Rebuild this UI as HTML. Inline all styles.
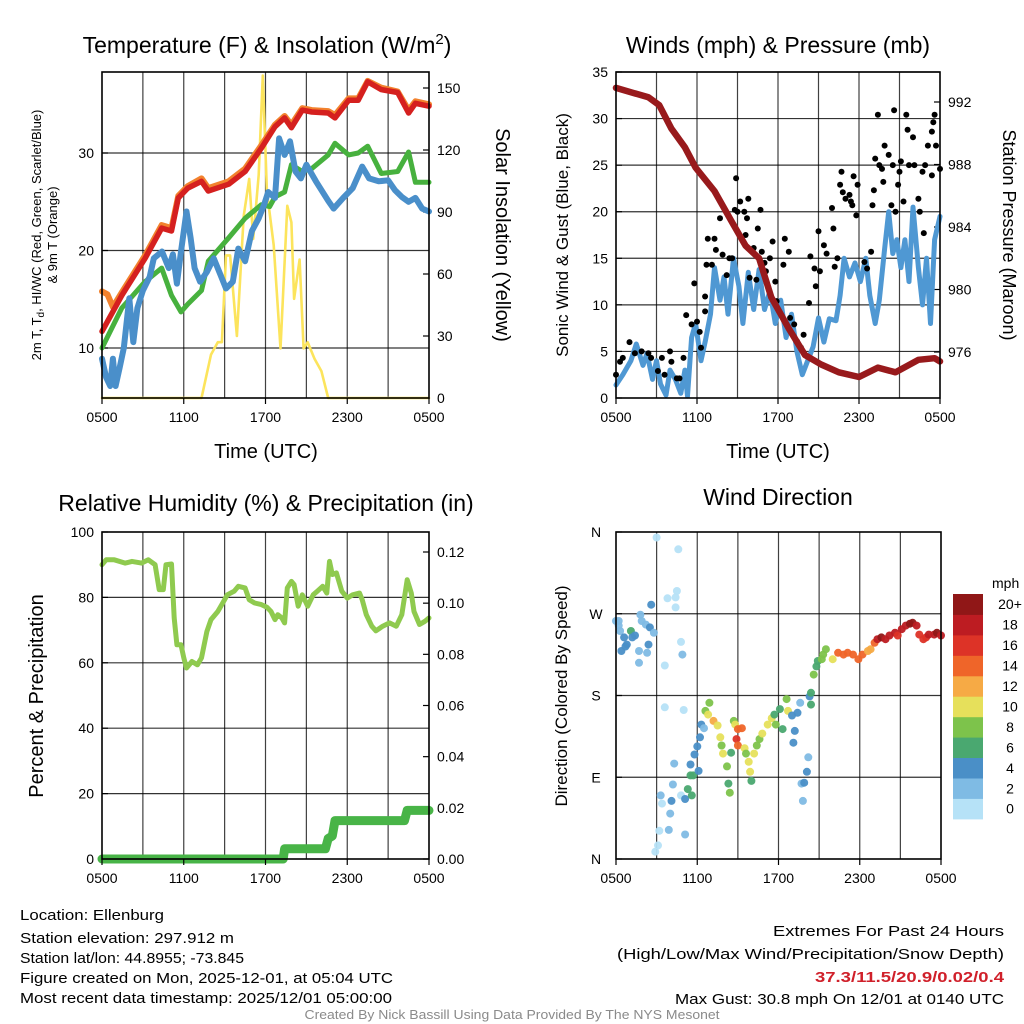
<!DOCTYPE html>
<html><head><meta charset="utf-8"><title>Mesonet Station Meteogram</title>
<style>
html,body{margin:0;padding:0;background:#fff;}
svg{display:block;font-family:"Liberation Sans",Arial,sans-serif;}
.tk{font-size:14px;fill:#000;}
.ttl{font-size:23px;fill:#000;}
.ax{font-size:20px;fill:#000;}
.ft{font-size:15px;fill:#000;}
</style></head>
<body>
<svg id="chart" width="1024" height="1024" viewBox="0 0 1024 1024" xmlns="http://www.w3.org/2000/svg">
<rect x="0" y="0" width="1024" height="1024" fill="#fff"/>
<text class="ttl" x="267" y="53" text-anchor="middle">Temperature (F) &amp; Insolation (W/m<tspan dy="-9" font-size="15">2</tspan><tspan dy="9">)</tspan></text>
<text class="ttl" x="778" y="53" text-anchor="middle">Winds (mph) &amp; Pressure (mb)</text>
<text class="ttl" x="266" y="511" text-anchor="middle">Relative Humidity (%) &amp; Precipitation (in)</text>
<text class="ttl" x="778" y="505" text-anchor="middle">Wind Direction</text>
<text class="ax" x="266" y="458" text-anchor="middle">Time (UTC)</text>
<text class="ax" x="778" y="458" text-anchor="middle">Time (UTC)</text>
<text font-size="13" transform="translate(41,235) rotate(-90)" text-anchor="middle">2m T, T<tspan dy="3" font-size="10">d</tspan><tspan dy="-3">, HI/WC (Red, Green, Scarlet/Blue)</tspan></text>
<text font-size="13" transform="translate(57,235) rotate(-90)" text-anchor="middle">&amp; 9m T (Orange)</text>
<text class="ax" transform="translate(496,235) rotate(90)" text-anchor="middle">Solar Insolation (Yellow)</text>
<text font-size="17" transform="translate(568,235) rotate(-90)" text-anchor="middle">Sonic Wind &amp; Gust (Blue, Black)</text>
<text font-size="18" transform="translate(1003,235) rotate(90)" text-anchor="middle">Station Pressure (Maroon)</text>
<text class="ax" transform="translate(43,696) rotate(-90)" text-anchor="middle">Percent &amp; Precipitation</text>
<text font-size="17" transform="translate(567,696) rotate(-90)" text-anchor="middle">Direction (Colored By Speed)</text>
<g>
<text class="ft" x="20" y="920" textLength="144" lengthAdjust="spacingAndGlyphs">Location: Ellenburg</text>
<text class="ft" x="20" y="943" textLength="214" lengthAdjust="spacingAndGlyphs">Station elevation: 297.912 m</text>
<text class="ft" x="20" y="963" textLength="224" lengthAdjust="spacingAndGlyphs">Station lat/lon: 44.8955; -73.845</text>
<text class="ft" x="20" y="983" textLength="373" lengthAdjust="spacingAndGlyphs">Figure created on Mon, 2025-12-01, at 05:04 UTC</text>
<text class="ft" x="20" y="1003" textLength="372" lengthAdjust="spacingAndGlyphs">Most recent data timestamp: 2025/12/01 05:00:00</text>
</g>
<g>
<text class="ft" x="1004" y="936" text-anchor="end" textLength="231" lengthAdjust="spacingAndGlyphs">Extremes For Past 24 Hours</text>
<text class="ft" x="1004" y="959" text-anchor="end" textLength="387" lengthAdjust="spacingAndGlyphs">(High/Low/Max Wind/Precipitation/Snow Depth)</text>
<text class="ft" x="1004" y="982" text-anchor="end" font-weight="bold" textLength="189" lengthAdjust="spacingAndGlyphs" style="fill:#d0202a">37.3/11.5/20.9/0.02/0.4</text>
<text class="ft" x="1004" y="1004" text-anchor="end" textLength="329" lengthAdjust="spacingAndGlyphs">Max Gust: 30.8 mph On 12/01 at 0140 UTC</text>
</g>
<text x="512" y="1019" text-anchor="middle" font-size="13" fill="#8a8a8a" textLength="415" lengthAdjust="spacingAndGlyphs">Created By Nick Bassill Using Data Provided By The NYS Mesonet</text>
<g id="layers"></g>
</svg>
<script>
// ---------- data (hours since 0500 UTC) ----------
const timeTicks = ["0500","1100","1700","2300","0500"];
const tempTicks = [10,20,30];
const solarTicks = [0,30,60,90,120,150];
const windTicks = [0,5,10,15,20,25,30,35];
const presTicks = [976,980,984,988,992];
const rhTicks = [0,20,40,60,80,100];
const precTicks = ["0.00","0.02","0.04","0.06","0.08","0.10","0.12"];
const dirTicks = ["N","E","S","W","N"];

const tempHours = [0,1.45,3.16,4.38,5.1,5.6,6.3,7.3,7.8,9.3,10.5,11.7,12.7,13.4,13.9,14.7,15.4,16.6,17.1,18.1,18.8,19.5,20.5,21.7,22.5,23,24];
const tempVals = [11.7,15.4,19.2,22.3,22,25.4,26.4,27.1,26.1,26.8,28.1,30.5,32.7,33.6,32.6,34.4,34.2,34.1,33.6,35.4,35.4,37.3,36.5,36.2,34.1,35.1,34.8];
const temp9Hours = [0,0.4,0.8,1.45,3.16,4.38,5.1,5.6,6.3,7.3,7.8,9.3,10.5,11.7,12.7,13.4,13.9,14.7,15.4,16.6,17.1,18.1,18.8,19.5,20.5,21.7,22.5,23,24];
const temp9Vals = [15.8,15.5,14.2,15.7,19.5,22.6,22.3,25.6,26.6,27.4,26.4,27.1,28.4,30.8,32.9,33.8,32.9,34.6,34.4,34.3,33.9,35.6,35.6,37.4,36.7,36.3,34.4,35.3,35.0];
const dewHours = [0,1.45,3.16,4.38,5.1,5.8,6.3,7.3,7.8,9.3,10.5,11.7,12.3,12.7,13.4,13.9,14.7,15.4,16.6,17.1,18.1,18.8,19.5,20.5,21.7,22.5,23,24];
const dewVals = [10,14.1,16.8,18.2,15.4,13.7,14.5,15.9,18.9,21.3,23.3,24.7,24.5,25.5,26,28.8,28.1,28.4,29.8,31,29.8,30,30.7,27.9,28.1,30.1,27,27];
const chillHours = [0,0.3,0.6,0.8,1.0,1.3,1.6,2.0,2.3,2.6,3.0,3.5,3.8,4.4,4.9,5.2,5.5,5.8,6.2,6.5,6.8,7.2,7.7,8.2,8.7,9.1,9.6,10.0,10.5,11.0,11.5,11.9,12.2,12.7,13.0,13.4,13.8,14.2,14.6,15.0,15.7,16.6,17.0,17.7,18.4,19.1,19.6,20.3,21.0,21.5,22.0,22.5,23.0,23.5,24];
const chillVals = [8.9,7,6.1,8.9,6.1,8,10,15.1,10.6,14.1,15.9,17.3,19.2,19.9,18.2,19.6,16.6,19.9,24,21.3,18.2,16.8,17.8,19.2,17.5,16.1,16.8,20.2,18.9,22,23.3,24.7,26,25.4,31.5,29.8,31.2,28.1,27.4,28.8,27.1,25.1,24.3,25.4,26.4,28.6,27.4,27.1,27.2,26.2,25.5,25,25.4,24.3,24];
const solarHours = [0,7.3,8.0,8.5,8.8,9.1,9.4,9.9,10.4,10.8,11.1,11.5,11.8,12.1,12.6,13.1,13.6,13.9,14.1,14.5,14.8,15.1,15.6,16.1,16.6,24];
const solarVals = [0,0,21,27,27,69,69,30,88,106,77,108,156,100,74,24,93,85,48,67,24,27,19,13,0,0];

const presHours = [0,2.4,3.2,4.1,5.1,5.9,7.3,8.6,9.6,10.6,11.5,12.8,14.0,15.2,16.5,18.0,19.4,20.7,22.4,23.6,24];
const presVals = [992.9,992.3,991.8,990.3,989.1,987.8,986.3,984.3,982.8,982.0,979.5,977.5,975.8,975.2,974.7,974.4,975.0,974.7,975.5,975.6,975.4];
const windHours = [0,0.5,1.1,1.5,2.0,2.3,2.7,3.0,3.3,3.7,4.0,4.4,4.8,5.1,5.3,5.6,5.9,6.3,6.6,7.0,7.3,7.7,8.0,8.3,8.7,9.1,9.4,9.8,10.2,10.6,11.0,11.4,11.8,12.2,12.6,13.0,13.4,13.8,14.2,14.6,15.0,15.4,15.8,16.3,16.6,16.9,17.3,17.7,18.1,18.5,18.8,19.2,19.5,19.9,20.2,20.5,20.8,21.1,21.4,21.7,22.0,22.4,22.7,23.0,23.3,23.6,24];
const windVals = [1.4,2.5,4,5.8,3.5,4.8,2.0,4.0,1.5,0.3,3.0,2.0,0.5,3.0,0.2,6.5,8.0,4.0,6.0,9.0,14,10.5,13,9,15,12,8,13.5,9.5,13.8,9.5,11.5,8,10.5,6.5,9,5,2.5,4.0,5.5,8.6,6,8.5,8.3,11,15,13,14.5,12.5,15,11,8,10.5,16,20,15.5,17,14,17,12.5,20.5,14,10,15,8,17,19.5];
const gustHours = [0,0.3,0.5,1.0,1.4,1.9,2.4,2.6,3.1,3.4,3.6,4.0,4.1,4.5,4.7,5.0,5.2,5.6,5.8,6.0,6.2,6.3,6.6,6.6,6.7,6.8,7.1,7.3,7.4,7.7,7.9,8.2,8.4,8.6,8.8,8.9,9.0,9.2,9.5,9.6,9.7,9.8,9.9,10.2,10.4,10.5,10.7,10.8,11.0,11.1,11.4,11.6,11.8,11.9,12.4,12.5,12.8,12.9,13.2,13.4,13.7,13.9,14.3,14.4,14.7,14.8,15.0,15.1,15.4,15.6,16.0,16.1,16.2,16.4,16.6,16.7,16.8,17.0,17.3,17.4,17.5,17.6,17.8,17.9,18.4,18.6,18.9,19.0,19.1,19.2,19.4,19.5,19.7,19.8,19.9,20.2,20.4,20.5,20.6,20.7,20.9,21.0,21.1,21.3,21.5,21.6,21.7,22.0,22.1,22.4,22.5,22.7,22.8,22.9,23.1,23.4,23.4,23.5,23.6,23.7,24.0];
const gustVals = [2.5,3.9,4.3,6,4.8,5,4.8,4.3,2.9,4.3,2.5,5,3.9,2.1,2.1,4.3,8.9,7.9,12.3,8.2,7.1,5.4,10.9,9.3,14.3,17.1,14.3,17.1,15.9,19.3,15.4,13.2,15,15,20.2,23.6,20,21.1,20,17.5,19.3,21.4,12.9,16.1,12.7,18.2,20.2,15.7,14.5,13.6,15,16.8,12.5,10.4,14.3,17.1,15.7,8.6,7.9,6.1,5.4,6.8,10.2,15.2,13.9,12,17.9,13.6,16.4,15.5,20.4,18.2,14.1,15,22.9,24.3,22.1,21.4,21.8,21.1,20.7,23.8,19.6,22.9,14.6,13.9,15.7,20.7,22.3,25.7,30.4,25,24.6,23.2,27.1,26.1,20.7,25,30.9,20,22.9,24.3,25.4,21.1,30.4,28.8,25,28,25,21.4,20,24.3,17.7,25,27.1,28.6,23.9,29.6,30.4,27.1,24.6];

const rhHours = [0,0.3,0.9,1.7,2.2,2.9,3.4,3.9,4.2,4.5,4.7,5.1,5.3,5.5,5.8,6.0,6.2,6.6,7.0,7.3,7.7,8.0,8.5,8.9,9.2,9.7,10.0,10.5,10.8,11.2,11.7,12.1,12.4,12.7,12.9,13.2,13.4,13.6,13.9,14.1,14.4,14.7,15.1,15.5,15.8,16.2,16.5,16.7,16.9,17.2,17.6,18.0,18.4,18.9,19.1,19.4,19.8,20.1,20.6,21.1,21.6,22.0,22.4,22.7,22.9,23.3,23.7,24];
const rhVals = [90,91.5,91.5,90.5,91,90.5,91.5,90,82.4,82.4,90,90.2,73.7,65.5,65.5,61.5,58.4,60.4,59.4,61.5,69.6,73.2,75.7,78.6,80.8,81.9,83.4,82.9,79.3,78.3,77.8,77,75.7,73.2,74.7,73.7,72.2,82.9,84.9,83.9,77.3,80.8,77.3,80.8,81.9,83.4,81.3,91,87,87.5,81.9,79.8,80.8,81.3,79.3,74.7,71.2,69.8,71.2,72.2,71.2,74.7,85.4,81.3,75.7,71.7,72.7,73.7];
const precHours = [0,13.3,13.4,16.4,16.6,16.9,17.1,22.2,22.4,24];
const precVals = [0,0,0.004,0.004,0.008,0.009,0.015,0.015,0.019,0.019];

const dirHours = [0,0.2,0.3,0.6,0.4,0.8,1.1,1.2,1.4,1.7,1.8,1.9,2.2,2.3,2.4,2.5,2.8,2.6,1.7,0.7,0.2,3.0,4.6,3.8,4.4,4.5,4.4,4.8,4.9,3.6,3.6,5.0,3.3,3.4,3.2,3.1,2.9,3.9,4.0,4.1,4.2,4.3,4.8,5.1,5.1,5.3,5.6,5.5,5.7,5.5,6.1,5.8,6.0,6.2,6.3,6.5,6.6,6.9,6.8,7.2,7.5,7.7,7.8,7.9,8.2,8.3,8.4,8.5,8.7,8.8,8.9,9.0,9.3,9.0,9.5,9.6,9.8,9.9,10.0,10.2,10.4,10.6,10.8,11.2,11.5,11.7,11.8,12.1,12.3,12.6,12.7,13.0,13.2,13.1,13.4,13.6,13.7,13.9,14.1,14.2,13.8,14.3,14.4,14.4,14.6,14.8,14.9,15.2,15.3,15.5,16.0,16.4,16.8,17.1,17.5,17.9,18.2,18.6,18.8,19.1,19.3,19.6,19.9,20.2,20.6,20.8,21.1,21.4,21.7,21.9,22.2,22.4,22.7,22.9,23.1,23.5,23.7,24];
const dirVals = [262,262,251,244,229,236,251,244,246,229,269,262,258,227,236,255,249,280,216,234,257,354,341,287,288,295,277,239,225,213,167,164,70,61,31,15,8,32,50,64,82,105,70,66,27,77,70,92,92,104,97,115,124,134,148,144,163,172,159,152,147,134,125,116,102,83,73,117,152,148,132,143,144,125,122,116,107,96,86,116,125,132,138,148,155,159,148,165,143,176,163,158,141,128,161,172,83,84,96,112,64,179,183,170,203,212,218,220,225,231,220,227,225,227,225,220,225,229,231,238,242,244,242,246,249,246,253,257,259,260,257,247,242,244,247,247,249,246];
const dirSpeeds = [3,3,3,4,4,4,6,4,4,3,3,2,3,3,4,4,2,4,3,4,3,1,1,1,1,1,1,1,2,1,1,1,2,1,1,1,1,2,2,4,2,2,1,4,2,6,6,6,6,4,4,4,4,4,4,2,8,8,10,12,10,10,8,10,8,6,8,6,8,10,16,14,14,14,10,8,10,10,6,10,8,8,10,10,10,6,8,6,6,8,10,4,4,4,4,2,2,4,4,2,2,4,6,6,8,6,6,8,8,8,10,14,14,14,14,14,14,12,12,14,18,20,18,18,18,16,18,18,20,20,18,16,16,16,18,18,20,18];
const speedBins = ["0","2","4","6","8","10","12","14","16","18","20+"];
const speedColors = ["#b6e2f7","#7fbbe4","#4a8fc7","#4aa870","#7dc34b","#e6e05b","#f6aa45","#ef6529","#dd3327","#bd1c22","#901717"];

// ---------- helpers ----------
const NS = "http://www.w3.org/2000/svg";
const root = document.getElementById("layers");
function mk(tag, attrs, parent){
  const e = document.createElementNS(NS, tag);
  for (const k in attrs) e.setAttribute(k, attrs[k]);
  (parent||root).appendChild(e);
  return e;
}
function lin(d0,d1,r0,r1){ return v => r0 + (v-d0)*(r1-r0)/(d1-d0); }

function panelFrame(P, name){
  const g = mk("g",{});
  
  
  for (let h=3; h<24; h+=3){
    const x = P.x(h);
    const l = mk("line",{x1:x,y1:P.top,x2:x,y2:P.bot,stroke:"#000","stroke-width":1.2,"stroke-opacity":0.75},g);
    
    
  }
  return g;
}
function hGrid(P, ys, g){
  ys.forEach(y=>{
    const l = mk("line",{x1:P.left,y1:y,x2:P.right,y2:y,stroke:"#000","stroke-width":1.2,"stroke-opacity":0.8},g);
    
    
  });
}
function border(P){
  const r = mk("rect",{x:P.left,y:P.top,width:P.right-P.left,height:P.bot-P.top,fill:"none",stroke:"#000","stroke-width":1.6});
  
  
}
function xAxis(P, name){
  const g = mk("g",{});
  
  
  timeTicks.forEach((t,i)=>{
    const x = P.x(i*6);
    mk("line",{x1:x,y1:P.bot,x2:x,y2:P.bot+6,stroke:"#000","stroke-width":1.2},g);
    const tx = mk("text",{x:x,y:P.bot+24,"text-anchor":"middle",class:"tk"},g);
    tx.textContent = t;
    
    
  });
}
function yLabels(P, vals, scale, side, g){
  vals.forEach(v=>{
    const y = scale(typeof v==="string"?parseFloat(v):v);
    const x = side==="left"? P.left-8 : P.right+8;
    mk("line",{x1:side==="left"?P.left:P.right,y1:y,x2:side==="left"?P.left+6:P.right-6,y2:y,stroke:"#000","stroke-width":1.2},g);
    const t = mk("text",{x:x,y:y+5,"text-anchor":side==="left"?"end":"start",class:"tk"},g);
    t.textContent = v;
    
    
  });
}
function path(xs, ys, P, yScale, color, w, name){
  let d = "";
  xs.forEach((h,i)=>{ d += (i?"L":"M") + P.x(h).toFixed(1) + "," + yScale(ys[i]).toFixed(1); });
  const p = mk("path",{d:d,fill:"none",stroke:color,"stroke-width":w,"stroke-linejoin":"round","stroke-linecap":"round"});
  
  
  return p;
}

// ---------- panel 1 ----------
const P1 = {left:102,right:429,top:72,bot:398};
P1.x = lin(0,24,P1.left,P1.right);
const yT = lin(10,30,348,153);
const yS = lin(0,150,398,88);
(function(){
  const g = panelFrame(P1,"temperature");
  hGrid(P1, tempTicks.map(yT), g);
  const ga = mk("g",{});
  
  
  yLabels(P1, tempTicks, yT, "left", ga);
  const gb = mk("g",{});
  
  
  yLabels(P1, solarTicks, yS, "right", gb);
  path(solarHours, solarVals, P1, yS, "#fce45c", 2.6, "solar-insolation-line");
  path(dewHours, dewVals, P1, yT, "#47b13e", 5, "green-temperature-line");
  path(chillHours, chillVals, P1, yT, "#4a8fca", 6, "blue-wind-chill-line");
  path(temp9Hours, temp9Vals, P1, yT, "#f2822e", 6, "orange-9m-temperature-line");
  path(tempHours, tempVals, P1, yT, "#d5201f", 5.5, "red-2m-temperature-line");
  border(P1); xAxis(P1,"temperature");
})();

// ---------- panel 2 ----------
const P2 = {left:616,right:940,top:72,bot:398};
P2.x = lin(0,24,P2.left,P2.right);
const yW = lin(0,35,398,72);
const yP = lin(976,992,352,102);
(function(){
  const g = panelFrame(P2,"winds");
  hGrid(P2, windTicks.slice(1).map(yW), g);
  const ga = mk("g",{});
  
  
  yLabels(P2, windTicks, yW, "left", ga);
  const gb = mk("g",{});
  
  
  yLabels(P2, presTicks, yP, "right", gb);
  path(windHours, windVals, P2, yW, "#4f98d3", 5, "sonic-wind-line");
  const gg = mk("g",{});
  
  
  gustHours.forEach((h,i)=>{
    const c = mk("circle",{cx:P2.x(h).toFixed(1),cy:yW(gustVals[i]).toFixed(1),r:3,fill:"#000"},gg);
    
    
  });
  path(presHours, presVals, P2, yP, "#981a1c", 6.5, "station-pressure-line");
  border(P2); xAxis(P2,"winds");
})();

// ---------- panel 3 ----------
const P3 = {left:102,right:429,top:532,bot:859};
P3.x = lin(0,24,P3.left,P3.right);
const yR = lin(0,100,859,532);
const yPr = lin(0,0.12,859,552);
(function(){
  const g = panelFrame(P3,"humidity");
  hGrid(P3, [20,40,60,80].map(yR), g);
  const ga = mk("g",{});
  
  
  yLabels(P3, rhTicks, yR, "left", ga);
  const gb = mk("g",{});
  
  
  yLabels(P3, precTicks, yPr, "right", gb);
  path(rhHours, rhVals, P3, yR, "#8fca4f", 5, "relative-humidity-line");
  path(precHours, precVals, P3, yPr, "#48b447", 9, "precipitation-line");
  border(P3); xAxis(P3,"humidity");
})();

// ---------- panel 4 ----------
const P4 = {left:616,right:941,top:532,bot:859};
P4.x = lin(0,24,P4.left,P4.right);
const yD = lin(0,360,859,532);
(function(){
  const g = panelFrame(P4,"wind-direction");
  hGrid(P4, [90,180,270].map(yD), g);
  const ga = mk("g",{});
  
  
  dirTicks.forEach((t,i)=>{
    const y = yD(i*90);
    mk("line",{x1:P4.left,y1:y,x2:P4.left+6,y2:y,stroke:"#000","stroke-width":1.2},ga);
    const tx = mk("text",{x:P4.left-20,y:y+5,"text-anchor":"middle",class:"tk"},ga);
    tx.textContent = t;
    
    
  });
  const gp = mk("g",{});
  
  
  dirHours.forEach((h,i)=>{
    const bin = Math.min(10, Math.floor(dirSpeeds[i]/2));
    const c = mk("circle",{cx:P4.x(h).toFixed(1),cy:yD(dirVals[i]).toFixed(1),r:4,fill:speedColors[bin],"fill-opacity":0.95},gp);
    
    
  });
  border(P4); xAxis(P4,"wind-direction");
  const cb = mk("g",{});
  
  
  const cbTop = 594, cbH = 20.45;
  const u = mk("text",{x:992,y:588,class:"tk"},cb);
  u.textContent = "mph";
  
  
  speedBins.forEach((lab,i)=>{
    const k = speedBins.length-1-i;
    const y = cbTop + k*cbH;
    const r = mk("rect",{x:953,y:y.toFixed(1),width:30,height:(cbH+0.5).toFixed(1),fill:speedColors[i]},cb);
    
    
    const t = mk("text",{x:1010,y:(y+cbH/2+5).toFixed(1),"text-anchor":"middle",class:"tk"},cb);
    t.textContent = lab;
    
    
  });
})();
</script>
</body></html>
